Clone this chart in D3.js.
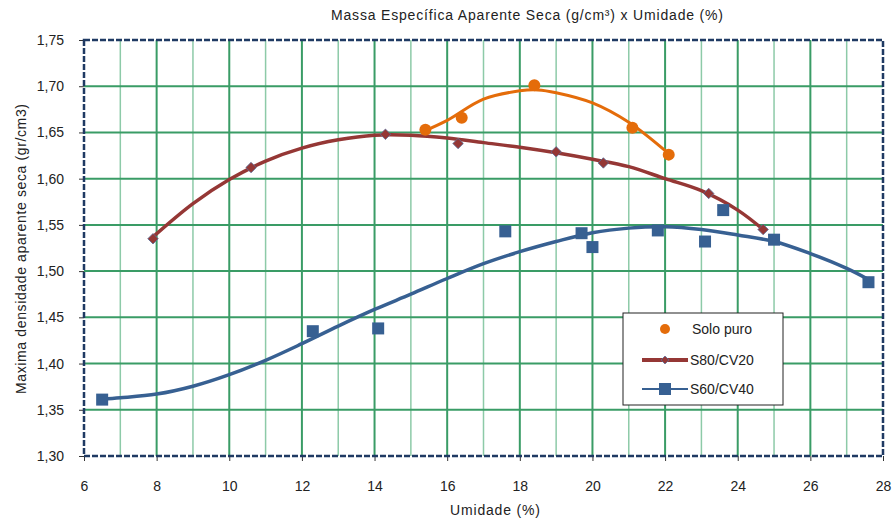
<!DOCTYPE html>
<html>
<head>
<meta charset="utf-8">
<script src="https://cdn.jsdelivr.net/npm/d3@7"></script>
<style>
  body { margin: 0; background: #fff; }
  svg { font-family: "Liberation Sans", Arial, sans-serif; }
</style>
</head>
<body>
<svg id="chart" width="894" height="522"></svg>
<script>
// measured points
var soloX = [15.4, 16.4, 18.4, 21.1, 22.1];
var soloY = [1.653, 1.666, 1.701, 1.655, 1.626];

var s80X = [7.9, 10.6, 14.3, 16.3, 19.0, 20.3, 23.2, 24.7];
var s80Y = [1.535, 1.612, 1.648, 1.638, 1.629, 1.617, 1.584, 1.545];

var s60X = [6.5, 12.3, 14.1, 17.6, 19.7, 20.0, 21.8, 23.1, 23.6, 25.0, 27.6];
var s60Y = [1.361, 1.435, 1.438, 1.543, 1.541, 1.526, 1.544, 1.532, 1.566, 1.534, 1.488];

// trend curves
var soloTrendX = [15.4, 16, 17, 18, 18.5, 19, 20, 21, 22.1];
var soloTrendY = [1.652, 1.663, 1.686, 1.695, 1.696, 1.693, 1.682, 1.661, 1.627];

var s80TrendX = [7.9, 9, 10, 11, 12, 13, 14, 15, 16, 17, 18, 19, 20, 21, 22, 23, 24, 24.7];
var s80TrendY = [1.537, 1.573, 1.599, 1.619, 1.633, 1.642, 1.647, 1.647, 1.644, 1.639, 1.634, 1.628, 1.621, 1.613, 1.600, 1.587, 1.566, 1.545];

var s60TrendX = [6.5, 7, 8, 9, 10, 11, 12, 13, 14, 15, 16, 17, 18, 19, 20, 21, 22, 23, 24, 25, 26, 27, 27.6];
var s60TrendY = [1.3615, 1.363, 1.367, 1.3755, 1.388, 1.4035, 1.4215, 1.4405, 1.4585, 1.475, 1.492, 1.508, 1.521, 1.532, 1.5415, 1.5465, 1.548, 1.545, 1.539, 1.532, 1.519, 1.503, 1.491];

var xTicks = [6, 8, 10, 12, 14, 16, 18, 20, 22, 24, 26, 28];
var yTicks = [1.30, 1.35, 1.40, 1.45, 1.50, 1.55, 1.60, 1.65, 1.70, 1.75];

var legendNames = ["Solo puro", "S80/CV20", "S60/CV40"];

var svg = d3.select("#chart");

var x = d3.scaleLinear().domain([6, 28]).range([84, 883]);
var y = d3.scaleLinear().domain([1.30, 1.75]).range([456, 40]);

var majorGreen = "#3a9c66",
    minorGreen = "#8dcaa8";

// gridlines
var g = svg.append("g");
d3.range(7, 28).forEach(function (v) {
    g.append("line")
        .attr("x1", x(v)).attr("x2", x(v))
        .attr("y1", y(1.75)).attr("y2", y(1.30))
        .attr("stroke", v % 2 == 0 ? majorGreen : minorGreen)
        .attr("stroke-width", v % 2 == 0 ? 2 : 1.5);
});
yTicks.slice(1, -1).forEach(function (v) {
    g.append("line")
        .attr("x1", x(6)).attr("x2", x(28))
        .attr("y1", y(v)).attr("y2", y(v))
        .attr("stroke", majorGreen)
        .attr("stroke-width", 2);
});

// axes
var fmt = function (d) { return d3.format(".2f")(d).replace(".", ","); };

var yAxis = svg.append("g")
    .attr("transform", "translate(" + x(6) + ",0)")
    .call(d3.axisLeft(y).tickValues(yTicks).tickFormat(fmt).tickSize(5).tickPadding(15));
var xAxis = svg.append("g")
    .attr("transform", "translate(0," + y(1.30) + ")")
    .call(d3.axisBottom(x).tickValues(xTicks).tickSize(5).tickPadding(20));

[yAxis, xAxis].forEach(function (a) {
    a.select(".domain").remove();
    a.selectAll("line").attr("stroke", "#333");
    a.selectAll("text")
        .attr("fill", "#222")
        .style("font-size", "14px")
        .style("font-family", "'Liberation Sans', Arial, sans-serif");
});

// plot border
svg.append("rect")
    .attr("x", x(6)).attr("y", y(1.75))
    .attr("width", x(28) - x(6)).attr("height", y(1.30) - y(1.75))
    .attr("fill", "none")
    .attr("stroke", "#1f3a63")
    .attr("stroke-width", 2.5)
    .attr("stroke-dasharray", "6,2");

// titles
svg.append("text")
    .attr("x", 527).attr("y", 20)
    .attr("text-anchor", "middle")
    .attr("textLength", 392)
    .style("font-size", "14px")
    .attr("fill", "#222")
    .text("Massa Específica Aparente Seca (g/cm³) x Umidade (%)");

svg.append("text")
    .attr("x", 495).attr("y", 515)
    .attr("text-anchor", "middle")
    .attr("textLength", 90)
    .style("font-size", "14px")
    .attr("fill", "#222")
    .text("Umidade (%)");

svg.append("text")
    .attr("transform", "translate(26,249) rotate(-90)")
    .attr("text-anchor", "middle")
    .attr("textLength", 290)
    .style("font-size", "14px")
    .attr("fill", "#222")
    .text("Maxima densidade aparente seca (gr/cm3)");

// curves
var line = d3.line()
    .x(function (d) { return x(d[0]); })
    .y(function (d) { return y(d[1]); })
    .curve(d3.curveCatmullRom.alpha(0.5));

function pairs(xs, ys) {
    return xs.map(function (v, i) { return [v, ys[i]]; });
}

var orange = "#e46c0a", red = "#953735", blue = "#376092";

svg.append("path").attr("d", line(pairs(s60TrendX, s60TrendY)))
    .attr("fill", "none").attr("stroke", blue).attr("stroke-width", 3.5);
svg.append("path").attr("d", line(pairs(s80TrendX, s80TrendY)))
    .attr("fill", "none").attr("stroke", red).attr("stroke-width", 3.5);
svg.append("path").attr("d", line(pairs(soloTrendX, soloTrendY)))
    .attr("fill", "none").attr("stroke", orange).attr("stroke-width", 3);

// markers
svg.selectAll(".sq").data(pairs(s60X, s60Y)).enter()
    .append("rect")
    .attr("x", function (d) { return x(d[0]) - 6; })
    .attr("y", function (d) { return y(d[1]) - 6; })
    .attr("width", 12).attr("height", 12)
    .attr("fill", blue);

svg.selectAll(".dm").data(pairs(s80X, s80Y)).enter()
    .append("path")
    .attr("d", d3.symbol().type(d3.symbolDiamond2).size(70))
    .attr("transform", function (d) { return "translate(" + x(d[0]) + "," + y(d[1]) + ")"; })
    .attr("fill", red)
    .attr("stroke", "#5a6f9a")
    .attr("stroke-width", 0.8);

svg.selectAll(".ci").data(pairs(soloX, soloY)).enter()
    .append("circle")
    .attr("cx", function (d) { return x(d[0]); })
    .attr("cy", function (d) { return y(d[1]); })
    .attr("r", 6)
    .attr("fill", orange);

// legend
var lg = svg.append("g").attr("transform", "translate(623,313)");
lg.append("rect")
    .attr("width", 160).attr("height", 92)
    .attr("fill", "#fff").attr("stroke", "#222").attr("stroke-width", 1);

var rowY = [16, 47, 76];
lg.append("circle").attr("cx", 42).attr("cy", rowY[0]).attr("r", 5).attr("fill", orange);
lg.append("line").attr("x1", 19).attr("x2", 65).attr("y1", rowY[1]).attr("y2", rowY[1])
    .attr("stroke", red).attr("stroke-width", 4);
lg.append("path")
    .attr("d", d3.symbol().type(d3.symbolDiamond2).size(40))
    .attr("transform", "translate(42," + rowY[1] + ")")
    .attr("fill", red).attr("stroke", "#5a6f9a").attr("stroke-width", 0.8);
lg.append("line").attr("x1", 19).attr("x2", 65).attr("y1", rowY[2]).attr("y2", rowY[2])
    .attr("stroke", blue).attr("stroke-width", 2);
lg.append("rect").attr("x", 36).attr("y", rowY[2] - 6).attr("width", 12).attr("height", 12)
    .attr("fill", blue);

legendNames.forEach(function (n, i) {
    lg.append("text")
        .attr("x", i == 0 ? 69 : 67).attr("y", rowY[i] + 5)
        .style("font-size", "14px")
        .attr("fill", "#222")
        .text(n);
});
</script>
</body>
</html>
